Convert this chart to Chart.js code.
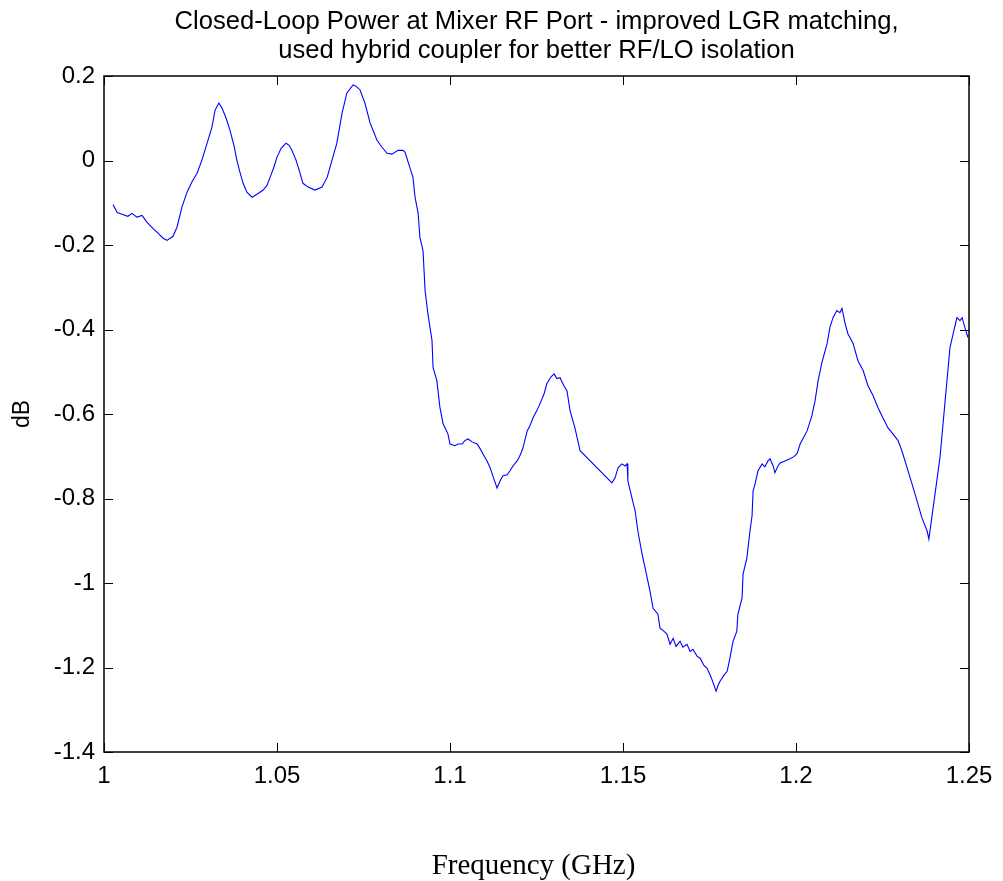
<!DOCTYPE html>
<html>
<head>
<meta charset="utf-8">
<script src="https://cdn.jsdelivr.net/npm/chart.js@4.4.1/dist/chart.umd.min.js"></script>
<style>
  html, body { margin: 0; padding: 0; background: #fff; }
</style>
</head>
<body>
<canvas id="chart" width="1003" height="881"></canvas>
<script>
// Values
const freqGHz = [
  1.0026, 1.0038, 1.0052, 1.0069, 1.0081, 1.0095, 1.0110, 1.0124, 1.0142, 1.0156,
  1.0171, 1.0182, 1.0191, 1.0199, 1.0211, 1.0225, 1.0240, 1.0254, 1.0269, 1.0283,
  1.0298, 1.0312, 1.0321, 1.0332, 1.0341, 1.0353, 1.0364, 1.0376, 1.0384, 1.0393,
  1.0402, 1.0413, 1.0428, 1.0442, 1.0460, 1.0471, 1.0480, 1.0491, 1.0500, 1.0512,
  1.0526, 1.0535, 1.0543, 1.0555, 1.0566, 1.0575, 1.0590, 1.0610, 1.0630, 1.0645,
  1.0659, 1.0673, 1.0688, 1.0702, 1.0720, 1.0728, 1.0740, 1.0754, 1.0769, 1.0789,
  1.0803, 1.0818, 1.0832, 1.0850, 1.0864, 1.0870, 1.0879, 1.0893, 1.0899, 1.0908,
  1.0913, 1.0922, 1.0928, 1.0936, 1.0948, 1.0951, 1.0962, 1.0971, 1.0980, 1.0994,
  1.1000, 1.1014, 1.1023, 1.1035, 1.1043, 1.1052, 1.1064, 1.1078, 1.1087, 1.1095,
  1.1107, 1.1116, 1.1127, 1.1136, 1.1145, 1.1153, 1.1165, 1.1173, 1.1182, 1.1194,
  1.1202, 1.1211, 1.1223, 1.1231, 1.1240, 1.1251, 1.1260, 1.1272, 1.1280, 1.1292,
  1.1301, 1.1309, 1.1318, 1.1329, 1.1338, 1.1347, 1.1361, 1.1376, 1.1468, 1.1477,
  1.1486, 1.1497, 1.1506, 1.1512, 1.1514, 1.1526, 1.1535, 1.1543, 1.1555, 1.1564,
  1.1578, 1.1587, 1.1601, 1.1607, 1.1618, 1.1627, 1.1636, 1.1645, 1.1653, 1.1665,
  1.1673, 1.1685, 1.1694, 1.1702, 1.1714, 1.1723, 1.1734, 1.1743, 1.1751, 1.1757,
  1.1769, 1.1775, 1.1780, 1.1792, 1.1801, 1.1809, 1.1818, 1.1829, 1.1832, 1.1844,
  1.1847, 1.1858, 1.1867, 1.1873, 1.1876, 1.1882, 1.1890, 1.1902, 1.1910, 1.1919,
  1.1925, 1.1934, 1.1939, 1.1948, 1.1954, 1.1968, 1.1983, 1.1994, 1.2003, 1.2012,
  1.2023, 1.2032, 1.2046, 1.2055, 1.2064, 1.2075, 1.2090, 1.2098, 1.2107, 1.2118,
  1.2127, 1.2133, 1.2142, 1.2150, 1.2165, 1.2179, 1.2194, 1.2208, 1.2223, 1.2237,
  1.2251, 1.2266, 1.2280, 1.2295, 1.2306, 1.2321, 1.2335, 1.2350, 1.2364, 1.2379,
  1.2384, 1.2416, 1.2445, 1.2465, 1.2474, 1.2480, 1.2488, 1.2497
];

const powerDb = [
  -0.104, -0.123, -0.127, -0.132, -0.125, -0.134, -0.130, -0.146, -0.161, -0.172,
  -0.184, -0.189, -0.184, -0.180, -0.158, -0.111, -0.075, -0.051, -0.030, 0.001,
  0.041, 0.079, 0.119, 0.136, 0.124, 0.100, 0.072, 0.034, 0.001, -0.028,
  -0.054, -0.075, -0.087, -0.080, -0.070, -0.059, -0.040, -0.016, 0.008, 0.029,
  0.041, 0.036, 0.024, 0.001, -0.028, -0.054, -0.063, -0.070, -0.063, -0.040,
  0.001, 0.041, 0.112, 0.160, 0.179, 0.176, 0.167, 0.136, 0.089, 0.048,
  0.032, 0.017, 0.015, 0.024, 0.024, 0.020, -0.004, -0.040, -0.087, -0.125,
  -0.182, -0.213, -0.308, -0.362, -0.426, -0.490, -0.521, -0.585, -0.623, -0.647,
  -0.671, -0.675, -0.671, -0.671, -0.663, -0.659, -0.666, -0.671, -0.682, -0.694,
  -0.711, -0.727, -0.754, -0.775, -0.758, -0.746, -0.744, -0.735, -0.723, -0.711,
  -0.699, -0.680, -0.640, -0.628, -0.609, -0.592, -0.576, -0.552, -0.528, -0.512,
  -0.505, -0.516, -0.514, -0.533, -0.545, -0.592, -0.633, -0.687, -0.763, -0.751,
  -0.727, -0.718, -0.723, -0.718, -0.758, -0.799, -0.829, -0.877, -0.931, -0.965,
  -1.019, -1.060, -1.074, -1.107, -1.114, -1.121, -1.145, -1.131, -1.150, -1.138,
  -1.152, -1.145, -1.162, -1.157, -1.173, -1.178, -1.195, -1.202, -1.216, -1.228,
  -1.256, -1.242, -1.233, -1.218, -1.209, -1.178, -1.138, -1.114, -1.074, -1.036,
  -0.979, -0.941, -0.877, -0.841, -0.782, -0.765, -0.735, -0.718, -0.725, -0.711,
  -0.706, -0.723, -0.739, -0.723, -0.716, -0.711, -0.706, -0.701, -0.694, -0.671,
  -0.654, -0.640, -0.604, -0.569, -0.521, -0.478, -0.433, -0.395, -0.372, -0.355,
  -0.360, -0.350, -0.386, -0.410, -0.433, -0.474, -0.497, -0.533, -0.557, -0.585,
  -0.609, -0.633, -0.647, -0.663, -0.687, -0.727, -0.765, -0.806, -0.846, -0.877,
  -0.896, -0.704, -0.443, -0.372, -0.379, -0.372, -0.395, -0.419
];

const xTicks = [1, 1.05, 1.1, 1.15, 1.2, 1.25];
const yTicks = [0.2, 0, -0.2, -0.4, -0.6, -0.8, -1, -1.2, -1.4];

const titleLines = [
  'Closed-Loop Power at Mixer RF Port - improved LGR matching,',
  'used hybrid coupler for better RF/LO isolation'
];
const xLabel = 'Frequency (GHz)';
const yLabel = 'dB';

const sansFont = '"Liberation Sans", Arial, sans-serif';
const serifFont = '"Liberation Serif", "DejaVu Serif", serif';

const points = freqGHz.map((f, i) => ({ x: f, y: powerDb[i] }));

// MATLAB style frame: box, inward ticks on all sides, title and axis labels
const matlabFrame = {
  id: 'matlabFrame',
  afterDraw(chart) {
    const { ctx, chartArea: a, scales } = chart;
    const tickLen = 9;
    ctx.save();

    ctx.strokeStyle = '#000';
    ctx.lineWidth = 1;
    ctx.beginPath();
    scales.x.ticks.forEach(t => {
      const px = Math.round(scales.x.getPixelForValue(t.value)) + 0.5;
      ctx.moveTo(px, a.bottom); ctx.lineTo(px, a.bottom - tickLen);
      ctx.moveTo(px, a.top); ctx.lineTo(px, a.top + tickLen);
    });
    scales.y.ticks.forEach(t => {
      const py = Math.round(scales.y.getPixelForValue(t.value)) + 0.5;
      ctx.moveTo(a.left, py); ctx.lineTo(a.left + tickLen, py);
      ctx.moveTo(a.right, py); ctx.lineTo(a.right - tickLen, py);
    });
    ctx.stroke();

    ctx.lineWidth = 1.5;
    ctx.strokeRect(a.left, a.top, a.right - a.left, a.bottom - a.top);

    const cx = (a.left + a.right) / 2;
    ctx.fillStyle = '#000';
    ctx.textAlign = 'center';
    ctx.textBaseline = 'alphabetic';
    ctx.font = '25.6px ' + sansFont;
    ctx.fillText(titleLines[0], cx, 29);
    ctx.fillText(titleLines[1], cx, 58);

    ctx.font = '29px ' + serifFont;
    ctx.fillText(xLabel, cx - 3, 874);

    ctx.translate(23, (a.top + a.bottom) / 2);
    ctx.rotate(-Math.PI / 2);
    ctx.textBaseline = 'middle';
    ctx.font = '23px ' + sansFont;
    ctx.fillText(yLabel, 0, 0);
    ctx.restore();
  }
};

const ctx = document.getElementById('chart').getContext('2d');
new Chart(ctx, {
  type: 'line',
  data: {
    datasets: [{
      data: points,
      borderColor: '#0000ff',
      borderWidth: 1.1,
      pointRadius: 0,
      tension: 0,
      fill: false
    }]
  },
  options: {
    responsive: false,
    animation: false,
    layout: { padding: { top: 76, right: 34, left: 0, bottom: 0 } },
    plugins: {
      legend: { display: false },
      tooltip: { enabled: false },
      title: { display: false }
    },
    scales: {
      x: {
        type: 'linear',
        min: 1,
        max: 1.25,
        afterBuildTicks: scale => { scale.ticks = xTicks.map(v => ({ value: v })); },
        afterFit: scale => { scale.height = 129; },
        grid: { display: false, drawTicks: false },
        border: { display: false },
        ticks: {
          padding: 10,
          color: '#000',
          autoSkip: false,
          maxRotation: 0,
          font: { family: sansFont, size: 24 },
          callback: v => String(v)
        }
      },
      y: {
        type: 'linear',
        min: -1.4,
        max: 0.2,
        afterBuildTicks: scale => { scale.ticks = yTicks.map(v => ({ value: v })); },
        afterFit: scale => { scale.width = 104; },
        grid: { display: false, drawTicks: false },
        border: { display: false },
        ticks: {
          padding: 9,
          color: '#000',
          autoSkip: false,
          font: { family: sansFont, size: 24 },
          callback: v => String(v)
        }
      }
    }
  },
  plugins: [matlabFrame]
});
</script>
</body>
</html>
